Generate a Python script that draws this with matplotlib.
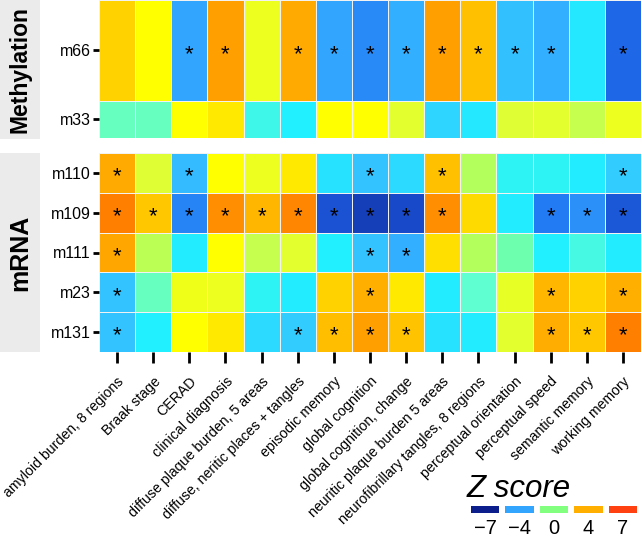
import numpy as np
import matplotlib
matplotlib.use("Agg")
import matplotlib.pyplot as plt
from matplotlib.colors import LinearSegmentedColormap, Normalize
from matplotlib.patches import Rectangle
from matplotlib.transforms import offset_copy

plt.rcParams['font.family'] = ['Liberation Sans', 'DejaVu Sans']

traits = ["amyloid burden, 8 regions", "Braak stage", "CERAD", "clinical diagnosis",
          "diffuse plaque burden, 5 areas", "diffuse, neritic places + tangles",
          "episodic memory", "global cognition", "global cognition, change",
          "neuritic plaque burden 5 areas", "neurofibrillary tangles, 8 regions",
          "perceptual orientation", "perceptual speed", "semantic memory", "working memory"]

meth_rows = ["m66", "m33"]
m66 = [3.0, 2.0, -4.0, 4.5, 1.5, 4.2, -4.0, -4.5, -3.8, 4.5, 3.5, -3.3, -3.8, -2.2, -5.2]
m33 = [-0.8, -0.8, 2.0, 2.5, -1.5, -2.0, 2.0, 2.0, 1.3, -2.7, -2.2, 1.2, 1.3, 0.8, 1.5]
m66_sig = [0, 0, 1, 1, 0, 1, 1, 1, 1, 1, 1, 1, 1, 0, 1]
m33_sig = [0] * 15

mrna_rows = ["m110", "m109", "m111", "m23", "m131"]
m110 = [4.2, 1.2, -3.5, 2.0, 1.5, 2.5, -2.4, -3.2, -2.6, 3.5, 0.6, -1.8, -1.8, -2.1, -3.0]
m109 = [5.5, 3.3, -4.6, 5.0, 3.8, 5.3, -5.9, -6.3, -6.1, 5.0, 2.8, -2.1, -4.8, -4.4, -5.7]
m111 = [4.3, 0.7, -2.1, 2.0, 0.8, 1.3, -2.0, -3.2, -3.8, 2.7, 0.6, -0.6, -2.0, -1.4, -2.1]
m23 = [-3.2, -0.8, 1.6, 1.5, -1.8, -2.1, 3.0, 4.0, 2.5, -2.1, -1.0, 1.4, 3.8, 3.0, 4.0]
m131 = [-3.2, -2.0, 2.0, 2.5, -2.6, -3.0, 3.6, 4.5, 3.4, -2.4, -2.1, 1.3, 4.1, 3.3, 5.5]
m110_sig = [1, 0, 1, 0, 0, 0, 0, 1, 0, 1, 0, 0, 0, 0, 1]
m109_sig = [1, 1, 1, 1, 1, 1, 1, 1, 1, 1, 0, 0, 1, 1, 1]
m111_sig = [1, 0, 0, 0, 0, 0, 0, 1, 1, 0, 0, 0, 0, 0, 0]
m23_sig = [1, 0, 0, 0, 0, 0, 0, 1, 0, 0, 0, 0, 1, 0, 1]
m131_sig = [1, 0, 0, 0, 0, 1, 1, 1, 1, 0, 0, 0, 1, 1, 1]

legend_vals = [-7, -4, 0, 4, 7]

anchors = [(-7, "#0c1e8c"), (-6, "#1a4fd0"), (-5, "#1f70f0"), (-4, "#33a8ff"),
           (-3, "#33ccff"), (-2, "#20f0ff"), (-1, "#60ffd0"), (0, "#80ff80"),
           (1, "#d8ff40"), (2, "#ffff00"), (3, "#ffd200"), (4, "#ffb000"),
           (5, "#ff9000"), (6, "#ff7000"), (7, "#ff4010")]
cmap = LinearSegmentedColormap.from_list(
    "z", [((v + 7) / 14, c) for v, c in anchors])
vmin, vmax = -7, 7
norm = Normalize(vmin, vmax)

W, H = 642, 538
fig = plt.figure(figsize=(W / 100, H / 100), dpi=100)


def fax(x0, y0, x1, y1):
    return fig.add_axes([x0 / W, 1 - y1 / H, (x1 - x0) / W, (y1 - y0) / H])


def draw_panel(ax, rows, data, sig, heights, show_x):
    Z = np.array(data)
    xe = np.arange(len(traits) + 1)
    ye = np.concatenate([[0], np.cumsum(heights)])
    ax.pcolormesh(xe, ye, Z, cmap=cmap, norm=norm,
                  edgecolor="#f2f2f2", linewidth=0.5)
    ax.set_xlim(0, len(traits))
    ax.set_ylim(ye[-1], 0)
    yc = (ye[:-1] + ye[1:]) / 2
    star_tr = offset_copy(ax.transData, fig=fig, x=0, y=-4, units="dots")
    for i in range(len(rows)):
        for j in range(len(traits)):
            if sig[i][j]:
                ax.text(j + 0.5, yc[i], "*", ha="center",
                        va="center", fontsize=16, color="black",
                        transform=star_tr)
    ax.set_yticks(yc)
    ax.set_yticklabels(rows, fontsize=11.5)
    ax.tick_params(axis="y", length=4, width=2, pad=2)
    ax.set_xticks(np.arange(len(traits)) + 0.5)
    if show_x:
        ax.set_xticklabels(traits, rotation=45, ha="right",
                           rotation_mode="anchor", fontsize=10.2)
        ax.tick_params(axis="x", length=8, width=2, pad=8)
    else:
        ax.tick_params(axis="x", length=0, labelbottom=False)
    for s in ax.spines.values():
        s.set_visible(False)


ax1 = fax(99, 0, 641, 138)
draw_panel(ax1, meth_rows, [m66, m33], [m66_sig, m33_sig], [2.7, 1.0], False)
ax2 = fax(99, 153, 641, 352)
draw_panel(ax2, mrna_rows, [m110, m109, m111, m23, m131],
           [m110_sig, m109_sig, m111_sig, m23_sig, m131_sig], [1] * 5, True)

# strip labels
for (y0, y1, lab, fs) in [(0, 139, "Methylation", 16.5), (153, 352, "mRNA", 18)]:
    fig.patches.append(Rectangle((0, 1 - y1 / H), 40 / W, (y1 - y0) / H,
                                 transform=fig.transFigure, facecolor="#ebebeb",
                                 edgecolor="none", zorder=0))
    fig.text(20 / W, 1 - (y0 + y1) / 2 / H, lab, rotation=90, ha="center",
             va="center", fontsize=fs, fontweight="bold")

# legend
fig.text(467 / W, 1 - 497 / H, "Z score", fontsize=22.5, style="italic",
         ha="left", va="baseline")
lax = fax(468, 506, 640, 513)
lax.bar(np.arange(len(legend_vals)) + 0.5, 1.0, width=0.83,
        color=[cmap(norm(v)) for v in legend_vals])
lax.set_xlim(0, len(legend_vals))
lax.set_ylim(0, 1)
lax.axis("off")
for k, v in enumerate(legend_vals):
    fig.text((468 + (k + 0.5) * 172 / len(legend_vals)) / W, 1 - 534 / H,
             "\u2212" + str(abs(v)) if v < 0 else str(v), fontsize=14.5,
             ha="center", va="baseline")

fig.savefig("out.png", dpi=100)
